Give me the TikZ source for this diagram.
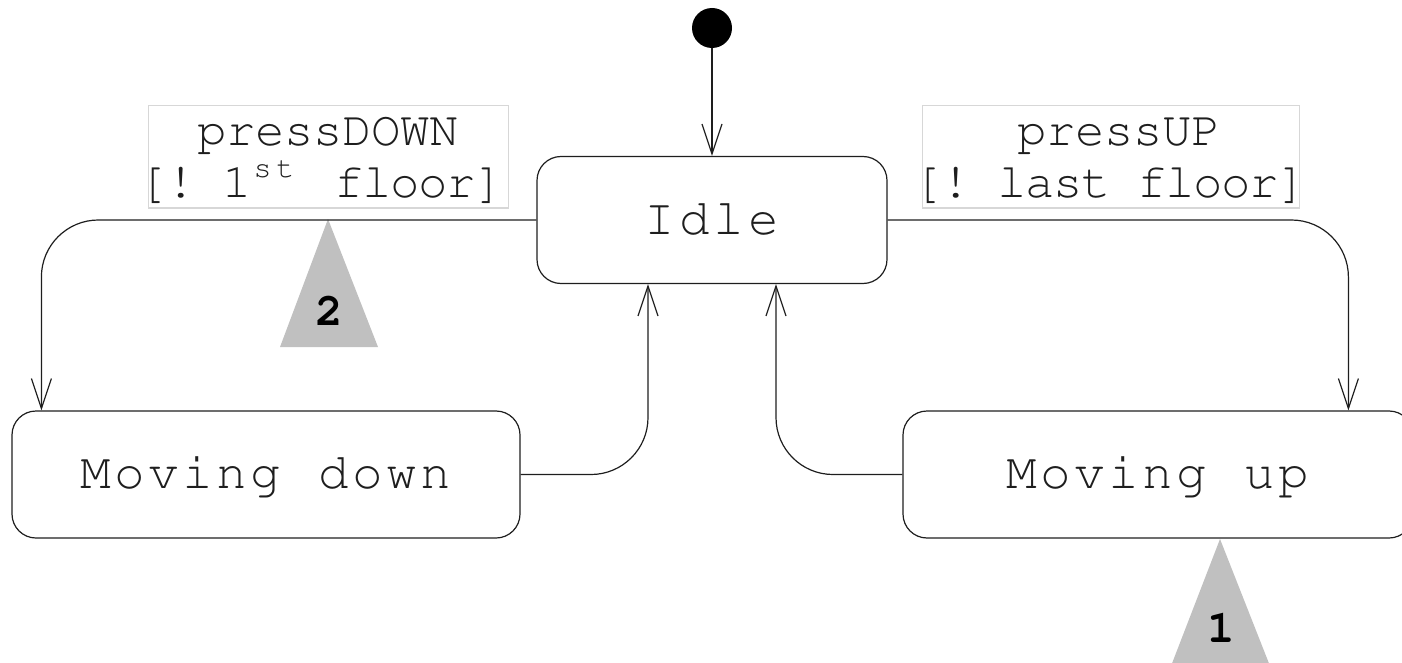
\documentclass[tikz,border=0pt]{standalone}
\usepackage[T1]{fontenc}
\usetikzlibrary{arrows.meta}
\definecolor{trigray}{RGB}{192,192,192}
\definecolor{lblframe}{RGB}{215,215,215}
\definecolor{ink}{RGB}{30,30,30}
\makeatletter
\newcommand\cellstr[2]{\@tfor\cs@chr:=#2\do{\makebox[#1][c]{\cs@chr}}}
\makeatother
\newcommand\statefont{\fontfamily{pcr}\fontseries{m}\fontsize{51}{55}\selectfont}
\newcommand\lblfont{\fontfamily{pcr}\fontseries{m}\fontsize{49}{49}\selectfont}
\newcommand\supfont{\fontfamily{pcr}\fontseries{m}\fontsize{30}{30}\selectfont}
\newcommand\numfont{\fontfamily{pcr}\fontseries{b}\fontsize{46}{46}\selectfont}
\begin{document}
\begin{tikzpicture}[x=1pt,y=-1pt,
  state/.style={draw=ink, line width=1.2pt, rounded corners=24pt, minimum height=127pt,
    inner sep=0pt, text height=28.5pt, text depth=0pt, font=\statefont, text=ink},
  lblbox/.style={draw=lblframe, line width=1pt, inner sep=0pt},
  lbltext/.style={inner sep=0pt, anchor=base, font=\lblfont, text=ink},
  numtext/.style={inner sep=0pt, font=\numfont, text=black},
  conn/.style={draw=ink, line width=1.2pt, rounded corners=57pt,
    -{Straight Barb[length=30pt,width=20pt,line width=1.2pt]}},
  initstate/.style={circle, fill=black, minimum size=40pt, inner sep=0pt}]
\useasboundingbox (0,0) rectangle (1402,663);
\clip (0,0) rectangle (1402,663);

% triangles
\fill[trigray] (328,219) -- (378,347) -- (280,347) -- cycle;
\fill[trigray] (1220,539) -- (1270,666) -- (1171,666) -- cycle;
\node[numtext] (n2) at (329,311) {2};
\node[numtext] (n1) at (1221,628) {1};

% states
\node[initstate] (init) at (712,28) {};
\node[state, minimum width=350pt] (idle) at (712,220) {\cellstr{34.5pt}{Idle}};
\node[state, minimum width=508pt] (down) at (266,474.5) {\cellstr{34pt}{Moving~down}};
\node[state, minimum width=510pt] (up) at (1158,474.5) {\cellstr{34pt}{Moving~up}};

% guard labels
\node[lblbox, minimum width=360pt, minimum height=102pt] (lbldown) at (328,157) {};
\node[lbltext] (lbldown1) at (328,146) {\cellstr{29pt}{pressDOWN}};
\node[lbltext] (lbldown2) at (321,197) {\cellstr{28pt}{[!~1}\raisebox{20pt}{\supfont\cellstr{23pt}{st}}\hspace{10pt}\cellstr{28pt}{~floor]}};

\node[lblbox, minimum width=377pt, minimum height=102pt] (lblup) at (1110.5,157) {};
\node[lbltext] (lblup1) at (1119,146) {\cellstr{29pt}{pressUP}};
\node[lbltext] (lblup2) at (1110,197) {\cellstr{28pt}{[!~last~floor]}};

% transitions
\draw[conn] (init) -- (idle);
\draw[conn] (idle.west) -| ([xshift=30pt]down.north west);
\draw[conn] (idle.east) -| ([xshift=446pt]up.north west);
\draw[conn] (down.east) -| ([xshift=-64pt]idle.south);
\draw[conn] (up.west) -| ([xshift=64pt]idle.south);
\end{tikzpicture}
\end{document}
